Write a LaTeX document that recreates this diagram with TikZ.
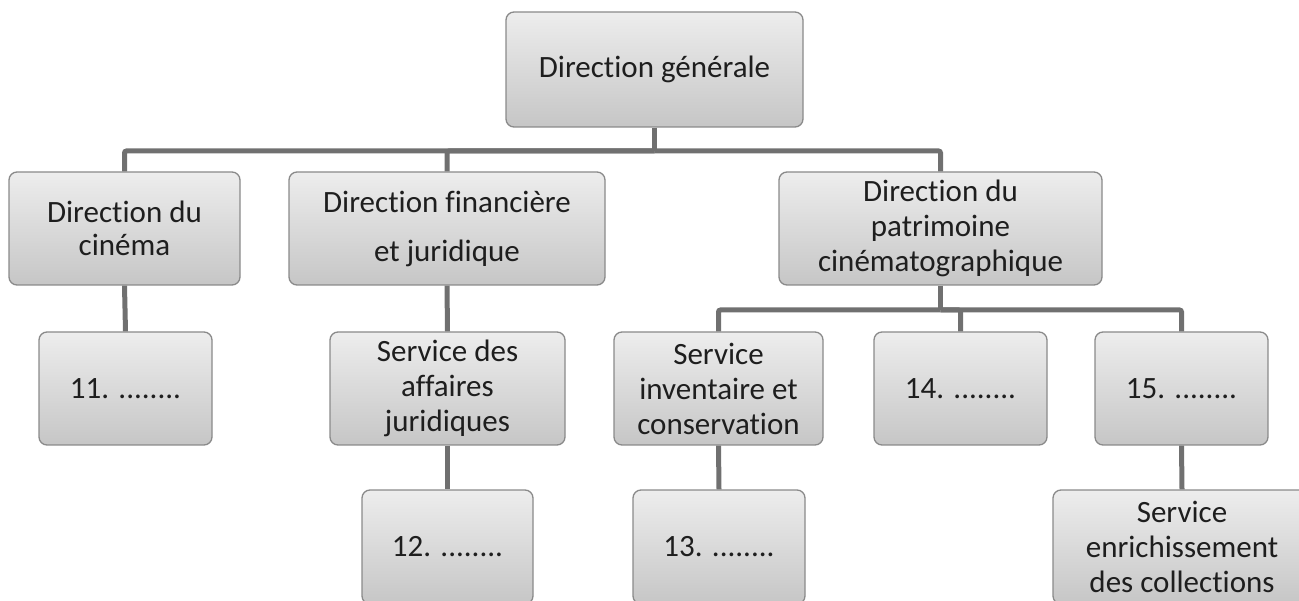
\documentclass[tikz,border=0pt]{standalone}
\usepackage{fontspec}
\setmainfont{Carlito}[Ligatures={NoCommon}]
\usetikzlibrary{calc}
\definecolor{boxtop}{HTML}{EDEDED}
\definecolor{boxbot}{HTML}{C6C6C6}
\definecolor{boxline}{HTML}{8A8A8A}
\definecolor{conn}{HTML}{707070}
\definecolor{txt}{HTML}{1E1E1E}
\tikzset{
  orgbox/.style={rectangle, rounded corners=8pt, draw=boxline, line width=1.3pt,
    top color=boxtop, bottom color=boxbot, inner sep=0pt, align=center,
    text=txt, font=\fontsize{31}{35}\selectfont},
  lvlA/.style={orgbox, minimum height=114pt},
  wire/.style={draw=conn, line width=5pt, rounded corners=2pt}
}
\begin{document}
\begin{tikzpicture}[x=1pt,y=-1pt]
\useasboundingbox (0,0) rectangle (1299,601);
\clip (0,0) rectangle (1299,601);
% level 0
\node[lvlA, minimum width=297pt, minimum height=115pt] (gen) at (654.5,69.5) {Direction générale};
% level 1
\node[lvlA, minimum width=231pt, minimum height=113pt] (cin) at (124.5,228.5) {Direction du\\[-2pt]cinéma};
\node[lvlA, minimum width=316pt, minimum height=113pt] (fin) at (447,228.5) {Direction financière\\[14pt]et juridique};
\node[lvlA, minimum width=323pt, minimum height=113pt] (pat) at (940.5,228.5) {Direction du\\patrimoine\\cinématographique};
% level 2
\node[lvlA, minimum width=173pt, minimum height=113pt] (n11) at (125.5,388.5) {11. ........};
\node[lvlA, minimum width=235pt, minimum height=113pt] (saj) at (447.5,388.5) {Service des\\affaires\\juridiques};
\node[lvlA, minimum width=209pt, minimum height=113pt] (inv) at (718.5,388.5) {Service\\inventaire et\\conservation};
\node[lvlA, minimum width=173pt, minimum height=113pt] (n14) at (960.5,388.5) {14. ........};
\node[lvlA, minimum width=173pt, minimum height=113pt] (n15) at (1181.5,388.5) {15. ........};
% level 3
\node[lvlA, minimum width=171pt, minimum height=114pt] (n12) at (447.5,547) {12. ........};
\node[lvlA, minimum width=172pt, minimum height=114pt] (n13) at (719,547) {13. ........};
\node[lvlA, minimum width=258pt, minimum height=114pt] (enr) at (1182,547) {Service\\enrichissement\\des collections};
% connectors
\coordinate (busA) at (654.5,151);
\coordinate (busB) at (940.5,310);
\draw[wire] (gen.south) -- (busA);
\draw[wire] (busA) -| (cin.north);
\draw[wire] (busA) -| (fin.north);
\draw[wire] (busA) -| (pat.north);
\draw[wire] (pat.south) -- (busB);
\draw[wire] (busB) -| (inv.north);
\draw[wire] (busB) -| (n14.north);
\draw[wire] (busB) -| (n15.north);
\draw[wire] (cin.south) -- (n11.north);
\draw[wire] (fin.south) -- (saj.north);
\draw[wire] (saj.south) -- (n12.north);
\draw[wire] (inv.south) -- (n13.north);
\draw[wire] (n15.south) -- (enr.north);
\end{tikzpicture}
\end{document}
